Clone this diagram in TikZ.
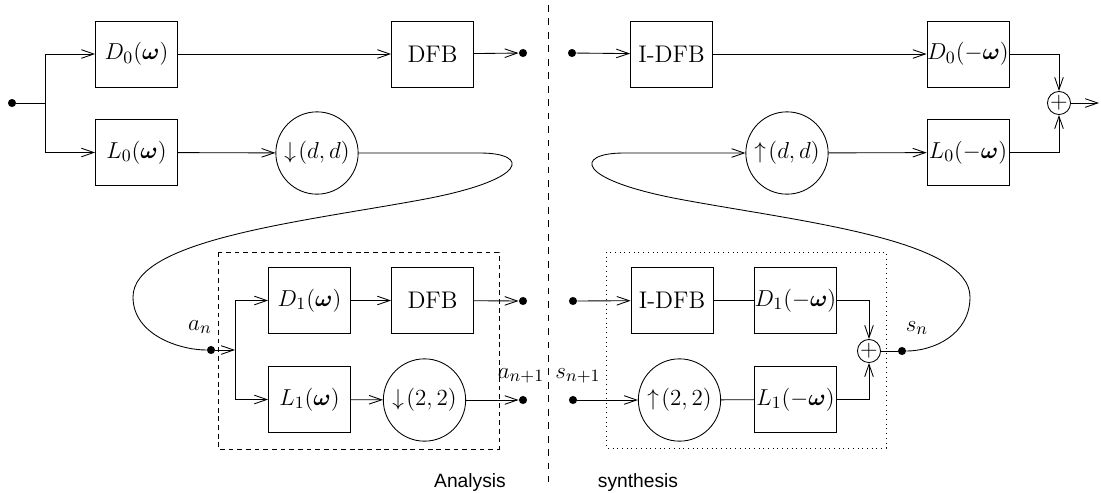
\documentclass[tikz,border=0pt]{standalone}
\usepackage{amsmath}
\usepackage{fontspec}
\newfontfamily\helv{Liberation Sans}
\usetikzlibrary{arrows.meta}
\begin{document}
\begin{tikzpicture}[x=0.52pt,y=-0.52pt,
  every node/.style={font=\fontsize{12.5}{15}\selectfont},
  line width=0.45pt,
  arr/.style={-{Straight Barb[length=6.5pt,width=4.5pt]}},
  blk/.style={draw,rectangle,minimum width=42.6pt,minimum height=34.3pt,inner sep=0pt},
  dwn/.style={draw,circle,minimum size=42.8pt,inner sep=0pt},
  sumc/.style={draw,circle,minimum size=12pt,inner sep=0pt},
  dotn/.style={circle,fill,inner sep=0pt,minimum size=4.2pt},
  lbl/.style={inner sep=0pt},
  captext/.style={inner sep=0pt,font=\helv\fontsize{10}{12}\selectfont}]
\useasboundingbox (0,0) rectangle (1101,492);
% top row
\node[dotn] (in) at (12,103) {};
\coordinate (split) at (45,103);
\node[blk] (D0) at (136.5,54) {$D_0(\boldsymbol{\omega})$};
\node[blk] (L0) at (136.5,152.5) {$L_0(\boldsymbol{\omega})$};
\node[dwn] (cd) at (317,153) {$\downarrow\!(d,d)$};
\node[blk] (dfbt) at (432.5,54) {DFB\hspace{0.8em}};
\node[dotn] (dtl) at (523,53) {};
\node[dotn] (dtr) at (572,53) {};
\node[blk] (idfbt) at (671.5,54) {I-DFB};
\node[blk] (D0m) at (968,54) {$D_0(-\boldsymbol{\omega})$};
\node[blk] (L0m) at (968,152.5) {$L_0(-\boldsymbol{\omega})$};
\node[dwn] (cu) at (787,153) {$\uparrow\!(d,d)$};
\node[sumc] (pt) at (1059,103) {$+$};
\coordinate (out) at (1099,103);
% bottom
\node[dotn] (an) at (211,350) {};
\coordinate (split2) at (235,350);
\node[blk] (D1) at (309.5,300.5) {$D_1(\boldsymbol{\omega})$};
\node[blk] (dfbb) at (432.5,300.5) {DFB\hspace{0.8em}};
\node[blk] (L1) at (309.5,399.5) {$L_1(\boldsymbol{\omega})$};
\node[dwn] (cd2) at (424.5,400) {$\downarrow\!(2,2)$};
\node[dotn] (dbl1) at (523,301) {};
\node[dotn] (dbl2) at (523,400) {};
\node[dotn] (dbr1) at (573,301) {};
\node[dotn] (dbr2) at (573,400) {};
\node[blk] (idfbb) at (672,300.5) {I-DFB};
\node[blk] (D1m) at (795.5,300.5) {$D_1(-\boldsymbol{\omega})$};
\node[dwn] (cu2) at (679.5,400) {$\uparrow\!(2,2)$};
\node[blk] (L1m) at (795.5,399.5) {$L_1(-\boldsymbol{\omega})$};
\node[sumc] (pb) at (869,351) {$+$};
\node[dotn] (sn) at (902,351) {};
% labels
\node[lbl] (lan) at (200,327) {$a_n$};
\node[lbl] (lan1) at (521,376) {$a_{n+1}$};
\node[lbl] (lsn1) at (578,376) {$s_{n+1}$};
\node[lbl] (lsn) at (917,328) {$s_n$};
\node[captext] (ana) at (470,483) {Analysis};
\node[captext] (syn) at (638,483) {synthesis};
% frames
\draw[dash pattern=on 3.5pt off 3.5pt] (548,5) -- (548,482);
\draw[dash pattern=on 2.5pt off 2pt] (218,252) rectangle (499,449);
\draw[dotted] (606,252) rectangle (886,448);
% top connectors
\draw (in) -- (split);
\draw[arr] (split) |- (D0);
\draw[arr] (split) |- (L0);
\draw[arr] (D0) -- (dfbt);
\draw[arr] (dfbt) -- (dtl);
\draw[arr] (L0) -- (cd);
\draw[arr] (dtr) -- (idfbt);
\draw[arr] (idfbt) -- (D0m);
\draw[arr] (cu) -- (L0m);
\draw[arr] (D0m.east) -| (pt);
\draw[arr] (L0m.east) -| (pt);
\draw[arr] (pt) -- (out);
% loops
\draw (cd.east) -- (480,153) .. controls (530,153) and (530,180) .. (420,200)
  .. controls (300,222) and (133,240) .. (133,297)
  .. controls (133,335) and (180,350) .. (an);
\draw[arr] (sn) .. controls (933,351) and (970,335) .. (970,297)
  .. controls (970,240) and (804,222) .. (684,200)
  .. controls (574,180) and (574,153) .. (624,153) -- (cu);
% bottom connectors
\draw[arr] (an) -- (split2);
\draw[arr] (split2) |- (D1);
\draw[arr] (split2) |- (L1);
\draw[arr] (D1) -- (dfbb);
\draw[arr] (dfbb) -- (dbl1);
\draw[arr] (L1) -- (cd2);
\draw[arr] (cd2) -- (dbl2);
\draw[arr] (dbr1) -- (idfbb);
\draw (idfbb) -- (D1m);
\draw[arr] (dbr2) -- (cu2);
\draw (cu2) -- (L1m);
\draw[arr] (D1m.east) -| (pb);
\draw[arr] (L1m.east) -| (pb);
\draw (pb) -- (sn);
\end{tikzpicture}
\end{document}
